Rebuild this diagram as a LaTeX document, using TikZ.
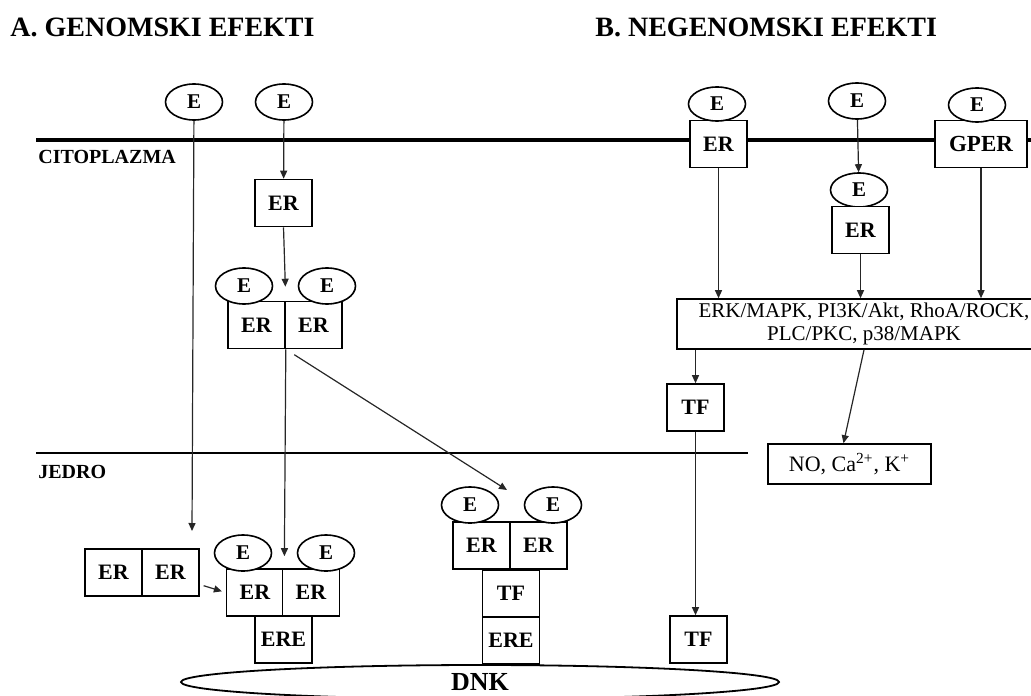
\documentclass[tikz,border=0pt]{standalone}
\usepackage{fontspec}
\setmainfont{Liberation Serif}
\usetikzlibrary{arrows.meta,shapes.geometric}

\tikzset{
    hormona/.style={ellipse, draw, fill=white, line width=0.8pt, minimum width=28.5pt, minimum height=18pt, inner sep=0pt, font=\fontsize{10.5}{12}\selectfont\bfseries},
    caja/.style={rectangle, draw, fill=white, line width=0.8pt, minimum width=28.5pt, minimum height=23.5pt, inner sep=0pt, font=\fontsize{11}{13}\selectfont\bfseries},
    flecha/.style={draw=black!85, line width=0.6pt, -{Triangle[length=4pt,width=3.5pt]}},
    titulo/.style={anchor=base west, inner sep=0pt, font=\fontsize{14}{16}\selectfont\bfseries},
    zona/.style={anchor=base west, inner sep=0pt, font=\fontsize{10}{12}\selectfont\bfseries},
}

\begin{document}
\begin{tikzpicture}[x=0.5pt,y=-0.5pt]
    \useasboundingbox (0,0) rectangle (1031,695);
    \clip (0,0) rectangle (1031,695);
    % Membrana y envoltura nuclear
    \draw[line width=2pt] (36,140) -- (1031,140);
    \draw[line width=0.7pt] (36,453) -- (748,453);
    % Titulos y zonas
    \node[titulo] (titA) at (10,37) {A. GENOMSKI EFEKTI};
    \node[titulo] (titB) at (595,37) {B. NEGENOMSKI EFEKTI};
    \node[zona] (cito) at (38,163) {CITOPLAZMA};
    \node[zona] (jedro) at (38,478) {JEDRO};
    % ADN abajo (cortado por el borde)
    \node[ellipse, draw, line width=0.9pt, minimum width=299pt, minimum height=17pt, inner sep=0pt] (dnk) at (480,682) {};
    \node[anchor=base, inner sep=0pt, font=\fontsize{13}{15}\selectfont\bfseries] (dnklbl) at (480,690) {DNK};

    % A: via genomica
    \node[hormona] (e1) at (194,102) {E};
    \node[hormona] (e2) at (284,102) {E};
    \node[caja] (er1) at (283.5,203) {ER};
    \node[caja] (dA1) at (256.5,325) {ER};
    \node[caja] (dA2) at (313.5,325) {ER};
    \node[hormona] (eA1) at (244,286) {E};
    \node[hormona] (eA2) at (327,286) {E};
    % dimero sin ligando y dimero sobre ERE
    \node[caja] (fA1) at (113.5,572.5) {ER};
    \node[caja] (fA2) at (170.5,572.5) {ER};
    \node[caja] (dB1) at (255,592.5) {ER};
    \node[caja] (dB2) at (311,592.5) {ER};
    \node[hormona] (eB1) at (243,553) {E};
    \node[hormona] (eB2) at (326,553) {E};
    \node[caja] (ereB) at (283.5,639.5) {ERE};
    % dimero con TF
    \node[caja] (dC1) at (481.5,545.5) {ER};
    \node[caja] (dC2) at (538.5,545.5) {ER};
    \node[hormona] (eC1) at (470,505) {E};
    \node[hormona] (eC2) at (553,505) {E};
    \node[caja] (tfC) at (511,593.5) {TF};
    \node[caja] (ereC) at (511,640.5) {ERE};

    % B: via no genomica
    \node[caja] (rR1) at (718.5,144) {ER};
    \node[hormona, minimum height=17pt] (eR1) at (717,104) {E};
    \node[hormona] (eR2) at (857,101) {E};
    \node[hormona, minimum height=17pt] (eR3) at (859,190) {E};
    \node[caja] (rR3) at (860.5,230) {ER};
    \node[caja, minimum width=46pt, font=\fontsize{11.5}{13}\selectfont\bfseries] (gper) at (981,144) {GPER};
    \node[hormona, minimum height=17pt] (eR4) at (977,105) {E};
    \node[caja, minimum width=187pt, minimum height=25pt, align=center, font=\fontsize{10.5}{11.5}\selectfont] (vias) at (864,324) {ERK/MAPK, PI3K/Akt, RhoA/ROCK,\\PLC/PKC, p38/MAPK};
    \node[caja] (tf1) at (695.5,407.5) {TF};
    \node[caja, minimum width=81.5pt, minimum height=20pt, font=\fontsize{11}{13}\selectfont] (iones) at (849.5,464) {NO, Ca\textsuperscript{2+}, K\textsuperscript{+}};
    \node[caja] (tf2) at (698.5,639.5) {TF};

    % Flechas
    \coordinate (puntaA) at (192,531);
    \coordinate (puntaC) at (507,490);
    \draw[flecha] (e1) -- (puntaA);
    \draw[flecha] (e2) -- (er1);
    \draw[flecha, shorten >=7pt] (er1.south) -- (dA1.north east);
    \draw[flecha, shorten >=6pt] (dA1.south east) -- (dB1.north east);
    \draw[flecha, shorten <=5pt] (dA1.south east) -- (puntaC);
    \draw[flecha, shorten <=2pt, shorten >=2pt] ([yshift=-6pt]fA2.east) -- (dB1.west);
    \draw[flecha] (rR1) -- (rR1 |- vias.north);
    \draw[flecha] (eR2) -- (eR3);
    \draw[flecha] (rR3) -- (rR3 |- vias.north);
    \draw[flecha] (gper) -- (gper |- vias.north);
    \draw[flecha] (tf1 |- vias.south) -- (tf1);
    \draw[flecha] (vias.south) -- ([xshift=-3pt]iones.north);
    \draw[flecha] (tf1) -- (tf1 |- tf2.north);
\end{tikzpicture}
\end{document}
